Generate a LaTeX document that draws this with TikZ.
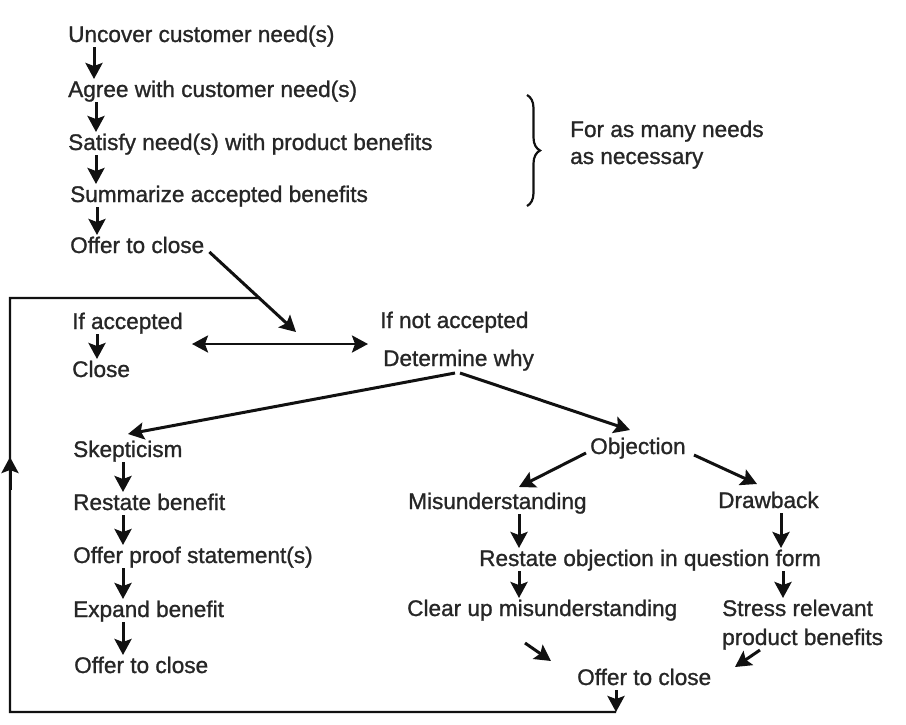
\documentclass[tikz,border=0pt]{standalone}
\usepackage{fontspec}
\setmainfont{Liberation Sans}[BoldFont=Liberation Sans, BoldFeatures={FakeBold=1.1}]
\usetikzlibrary{arrows.meta,calc,decorations.pathreplacing}
\definecolor{ink}{HTML}{111111}
\definecolor{txtc}{HTML}{262626}
\tikzset{
  lbl/.style={anchor=base west, inner sep=0pt, font=\bfseries\fontsize{22.6}{26}\selectfont, text=txtc},
  arr/.style={draw=ink, line width=3pt, -{Stealth[length=16pt,width=17pt,inset=3pt]}},
  dbl/.style={draw=ink, line width=2.7pt, {Stealth[length=16pt,width=17pt,inset=3pt]}-{Stealth[length=16pt,width=17pt,inset=3pt]}},
  loopln/.style={draw=ink, line width=2.3pt},
}
\newcommand\vdown[3]{\draw[arr] ([shift={(#3,-5)}]#1.base west) coordinate (vtmp) -- ($(vtmp |- #2.base)+(0,18)$);}
\begin{document}
\begin{tikzpicture}[x=1pt,y=1pt]
\useasboundingbox (0,0) rectangle (906,-724);
\node[lbl] (n1) at (68,-42) {Uncover customer need(s)};
\node[lbl] (n2) at (68,-97) {Agree with customer need(s)};
\node[lbl] (n3) at (68,-150) {Satisfy need(s) with product benefits};
\node[lbl] (n4) at (70,-202) {Summarize accepted benefits};
\node[lbl] (n5) at (70,-253) {Offer to close};
\node[lbl] (f1) at (570,-137) {For as many needs};
\node[lbl] (f2) at (570,-164) {as necessary};
\node[lbl] (ia) at (72,-329) {If accepted};
\node[lbl] (cl) at (72,-377) {Close};
\node[lbl] (ina) at (380,-328) {If not accepted};
\node[lbl] (dw) at (383,-366) {Determine why};
\node[lbl] (sk) at (73,-457) {Skepticism};
\node[lbl] (rb) at (73,-510) {Restate benefit};
\node[lbl] (op) at (73,-563) {Offer proof statement(s)};
\node[lbl] (eb) at (73,-617) {Expand benefit};
\node[lbl] (oc1) at (74,-673) {Offer to close};
\node[lbl] (ob) at (590,-454) {Objection};
\node[lbl] (mu) at (408,-509) {Misunderstanding};
\node[lbl] (db) at (718,-508) {Drawback};
\node[lbl] (rq) at (479,-566) {Restate objection in question form};
\node[lbl] (cu) at (407,-616) {Clear up misunderstanding};
\node[lbl] (sr) at (722,-616) {Stress relevant};
\node[lbl] (pb) at (722,-645) {product benefits};
\node[lbl] (oc2) at (577,-685) {Offer to close};

\vdown{n1}{n2}{26}
\vdown{n2}{n3}{28}
\vdown{n3}{n4}{28}
\vdown{n4}{n5}{27}
\vdown{ia}{cl}{25}
\vdown{sk}{rb}{50}
\vdown{rb}{op}{50}
\vdown{op}{eb}{50}
\vdown{eb}{oc1}{50}
\vdown{mu}{rq}{111}
\vdown{db}{rq}{63}
\vdown{rq}{cu}{40}
\vdown{rq}{sr}{304}

% brace
\draw[ink, line width=2.2pt, decorate, decoration={brace, amplitude=13pt}] (527,-95) -- (527,-206);

% offer to close -> if not accepted
\coordinate (dtip) at (296,-332);
\draw[arr] ([shift={(5,1)}]n5.base east) coordinate (dstart) -- (dtip);
\draw[dbl] ([shift={(120,-15)}]ia.base west) -- ([shift={(-12,-16)}]ina.base west);

% determine why branches
\draw[arr] ([shift={(72,-7)}]dw.base west) -- ([shift={(55,23)}]sk.base west);
\draw[arr] ([shift={(77,-7)}]dw.base west) -- ([shift={(40,24)}]ob.base west);
\draw[arr] ([shift={(-4,1)}]ob.base west) -- ([shift={(111,22)}]mu.base west);
\draw[arr] ([shift={(104,-1)}]ob.base west) -- ([shift={(39,24)}]db.base west);
\draw[arr] ([shift={(118,-27)}]cu.base west) -- ([shift={(-26,24)}]oc2.base west);
\draw[arr] ([shift={(38,-5)}]pb.base west) -- ([shift={(158,18)}]oc2.base west);

% loop back
\coordinate (lbr) at ($(oc2.base west)+(39,-27)$);
\coordinate (cbl) at (10,-712);
\coordinate (ltl) at (10,-298);
\draw[arr] ($(oc2.base west)+(39,-5)$) -- (lbr);
\draw[loopln] (lbr) -- (cbl) -- (ltl) -- (intersection of dstart--dtip and ltl--400,-298);
\draw[arr] (10,-490) -- (10,-457);
\end{tikzpicture}
\end{document}
